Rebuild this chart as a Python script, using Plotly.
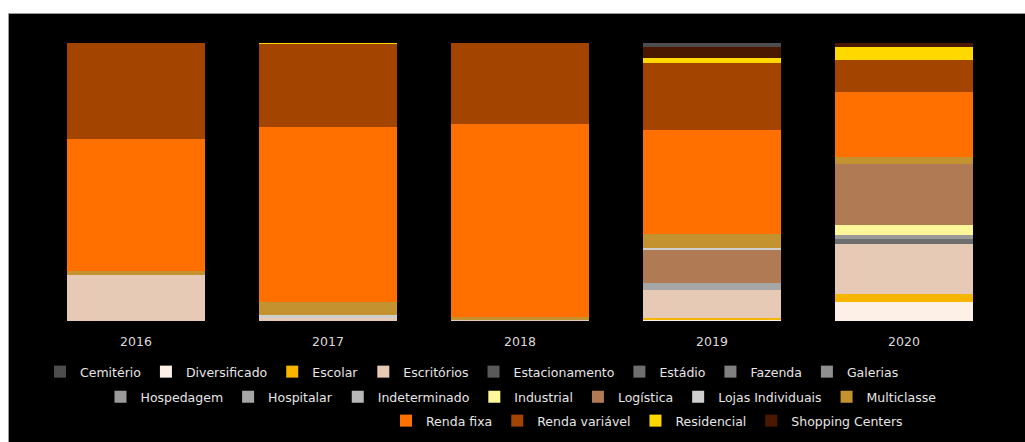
import plotly.graph_objects as go

years = ["2016", "2017", "2018", "2019", "2020"]

cemiterio = [0, 0, 0, 1.3, 0]
diversificado = [0, 0, 0, 0.7, 6.9]
escolar = [0, 0, 0, 0.4, 2.7]
escritorios = [16.6, 1.2, 0.5, 10.1, 18.0]
estacionamento = [0, 0, 0, 0, 0]
estadio = [0, 0, 0, 0, 1.8]
fazenda = [0, 0, 0, 0, 0]
galerias = [0, 0, 0, 0, 0]
hospedagem = [0, 0, 0, 0, 1.5]
hospitalar = [0, 0, 0, 2.4, 0]
indeterminado = [0, 0, 0, 0, 0]
industrial = [0, 0, 0, 0, 3.8]
logistica = [0, 0, 0, 12.2, 21.9]
lojas = [0, 0.8, 0, 0.4, 0]
multiclasse = [1.4, 4.8, 0.9, 5.0, 2.4]
renda_fixa = [47.5, 62.9, 69.3, 37.5, 23.3]
renda_variavel = [34.5, 30.0, 29.3, 24.2, 11.6]
residencial = [0, 0.3, 0, 1.8, 4.7]
shopping = [0, 0, 0, 4.0, 1.4]

# (name, values, color, legend row)
series = [
    ("Cemitério", cemiterio, "#4d4d4d", "legend"),
    ("Diversificado", diversificado, "#fdf0e6", "legend"),
    ("Escolar", escolar, "#f7b500", "legend"),
    ("Escritórios", escritorios, "#e6cab6", "legend"),
    ("Estacionamento", estacionamento, "#595959", "legend"),
    ("Estádio", estadio, "#6e6e6e", "legend"),
    ("Fazenda", fazenda, "#808080", "legend"),
    ("Galerias", galerias, "#8f8f8f", "legend"),
    ("Hospedagem", hospedagem, "#9a9a9a", "legend2"),
    ("Hospitalar", hospitalar, "#a6a6a6", "legend2"),
    ("Indeterminado", indeterminado, "#b8b8b8", "legend2"),
    ("Industrial", industrial, "#fdf79a", "legend2"),
    ("Logística", logistica, "#b07a55", "legend2"),
    ("Lojas Individuais", lojas, "#cfcfcf", "legend2"),
    ("Multiclasse", multiclasse, "#c4922e", "legend2"),
    ("Renda fixa", renda_fixa, "#ff7000", "legend3"),
    ("Renda variável", renda_variavel, "#a34500", "legend3"),
    ("Residencial", residencial, "#ffd800", "legend3"),
    ("Shopping Centers", shopping, "#4a1800", "legend3"),
]

# stacking order: alphabetical from bottom, Cemitério band drawn on top
stack_order = series[1:] + series[:1]
rank = {s[0]: i for i, s in enumerate(series)}

fig = go.Figure()
for name, vals, color, leg in stack_order:
    fig.add_trace(go.Bar(
        x=years, y=vals, name=name,
        marker=dict(color=color, line=dict(width=0)),
        legend=leg, legendrank=rank[name] + 1,
    ))

W, H = 1025, 442
L, R, T, B = 40, 25, 43, 121
pw, ph = W - L - R, H - T - B


def px_x(px):
    return (px - L) / pw


def px_y(py):
    return (H - B - py) / ph


legfont = dict(family="DejaVu Sans", size=12.5, color="#e6e6e6")
common = dict(orientation="h", xanchor="center", yanchor="middle",
              traceorder="normal",
              font=legfont, bgcolor="rgba(0,0,0,0)", itemclick=False)

fig.update_layout(
    width=W, height=H,
    margin=dict(l=L, r=R, t=T, b=B, autoexpand=False),
    barmode="stack",
    bargap=0.28,
    paper_bgcolor="white",
    plot_bgcolor="rgba(0,0,0,0)",
    showlegend=True,
    legend=dict(x=px_x(472), y=px_y(372), **common),
    legend2=dict(x=px_x(521), y=px_y(397), **common),
    legend3=dict(x=px_x(647), y=px_y(421), **common),
    xaxis=dict(type="category", showgrid=False, zeroline=False, showline=False,
               automargin=False, ticklabelstandoff=11,
               tickfont=dict(family="DejaVu Sans", size=12.5, color="#d9d9d9")),
    yaxis=dict(range=[0, 100], visible=False, showgrid=False, zeroline=False,
               automargin=False),
    shapes=[dict(type="rect", xref="paper", yref="paper", layer="below",
                 x0=px_x(8.5), x1=px_x(1040), y0=px_y(460), y1=px_y(13.5),
                 fillcolor="black", line=dict(color="#9a9a9a", width=1))],
)

fig.write_html("out.html")
